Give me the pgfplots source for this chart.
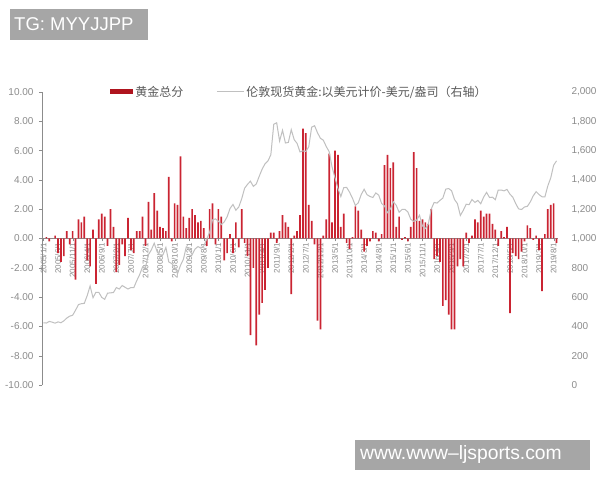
\documentclass[border=0pt]{standalone}
\usepackage{fontspec}
\setmainfont{Liberation Sans}
\newfontfamily\cjk{Noto Sans CJK SC}
\usepackage{pgfplots}
\usepackage{pgfplotstable}
\pgfplotsset{compat=1.18}
\definecolor{barred}{RGB}{202,36,50}
\definecolor{legred}{RGB}{175,20,30}
\definecolor{goldline}{RGB}{192,192,192}
\definecolor{tickgray}{RGB}{140,140,140}
\definecolor{wmgray}{RGB}{166,166,166}

\pgfplotstableread{
x y
0 0.0
1 0.1
2 -0.2
3 0.0
4 0.2
5 -1.0
6 -1.6
7 -1.2
8 0.5
9 -0.4
10 0.5
11 -2.8
12 1.3
13 1.1
14 1.5
15 -1.5
16 -1.9
17 0.6
18 -3.1
19 1.3
20 1.7
21 1.5
22 -0.5
23 2.0
24 0.8
25 -2.3
26 -1.8
27 -0.4
28 -1.2
29 1.4
30 -0.8
31 -1.0
32 0.5
33 0.5
34 1.5
35 -0.5
36 2.5
37 0.6
38 3.1
39 1.9
40 0.8
41 0.7
42 0.5
43 4.2
44 -0.2
45 2.4
46 2.3
47 5.6
48 1.5
49 0.7
50 1.4
51 2.0
52 1.6
53 1.1
54 1.2
55 0.7
56 -0.5
57 2.0
58 2.4
59 -0.4
60 2.0
61 1.5
62 -1.5
63 -1.0
64 0.3
65 -1.0
66 1.1
67 -0.6
68 2.0
69 -0.3
70 -1.2
71 -6.6
72 -2.0
73 -7.3
74 -5.2
75 -4.4
76 -3.5
77 -2.0
78 0.4
79 0.4
80 -0.3
81 0.5
82 1.6
83 1.1
84 0.8
85 -3.8
86 0.2
87 0.5
88 1.6
89 7.5
90 7.2
91 2.3
92 1.2
93 -0.4
94 -5.6
95 -6.2
96 0.2
97 1.3
98 5.8
99 1.1
100 6.0
101 5.7
102 0.8
103 1.7
104 -0.3
105 -0.7
106 0.1
107 2.2
108 1.9
109 0.6
110 -0.9
111 -0.5
112 -0.2
113 0.5
114 0.4
115 -0.2
116 0.3
117 5.0
118 5.7
119 4.8
120 5.2
121 0.8
122 1.5
123 -0.1
124 0.1
125 -0.2
126 0.8
127 5.9
128 4.8
129 1.2
130 1.3
131 1.1
132 1.0
133 2.0
134 -1.4
135 -1.2
136 -1.6
137 -4.6
138 -4.2
139 -5.2
140 -6.2
141 -6.2
142 -1.9
143 -1.4
144 -1.9
145 0.4
146 -0.3
147 0.2
148 1.3
149 1.1
150 1.9
151 1.5
152 1.7
153 1.7
154 1.0
155 0.6
156 -0.5
157 0.5
158 0.1
159 0.8
160 -5.1
161 -1.0
162 -1.2
163 -1.4
164 -0.9
165 -0.2
166 0.9
167 0.7
168 -0.1
169 0.2
170 -0.8
171 -3.6
172 0.3
173 2.0
174 2.3
175 2.4
176 -0.3
}\bars

\pgfplotstableread{
x p
0 424
1 423
2 434
3 429
4 422
5 431
6 425
7 438
8 457
9 470
10 476
11 510
12 549
13 555
14 557
15 610
16 676
17 596
18 633
19 632
20 598
21 585
22 627
23 629
24 631
25 665
26 655
27 679
28 667
29 655
30 665
31 665
32 712
33 754
34 806
35 803
36 889
37 922
38 968
39 909
40 888
41 889
42 939
43 839
44 829
45 806
46 760
47 816
48 858
49 943
50 924
51 890
52 928
53 945
54 934
55 949
56 996
57 1043
58 1127
59 1134
60 1118
61 1095
62 1113
63 1148
64 1205
65 1232
66 1193
67 1215
68 1271
69 1343
70 1370
71 1391
72 1356
73 1372
74 1424
75 1473
76 1510
77 1529
78 1572
79 1780
80 1790
81 1665
82 1739
83 1652
84 1656
85 1743
86 1675
87 1649
88 1591
89 1598
90 1594
91 1626
92 1760
93 1770
94 1722
95 1684
96 1671
97 1628
98 1593
99 1487
100 1414
101 1343
102 1286
103 1347
104 1349
105 1316
106 1275
107 1225
108 1244
109 1300
110 1336
111 1299
112 1287
113 1280
114 1311
115 1296
116 1239
117 1222
118 1176
119 1201
120 1251
121 1227
122 1179
123 1198
124 1199
125 1181
126 1131
127 1117
128 1125
129 1159
130 1086
131 1068
132 1097
133 1200
134 1246
135 1242
136 1260
137 1276
138 1337
139 1341
140 1326
141 1266
142 1238
143 1157
144 1192
145 1234
146 1231
147 1266
148 1246
149 1260
150 1237
151 1283
152 1315
153 1280
154 1282
155 1265
156 1331
157 1331
158 1325
159 1335
160 1303
161 1282
162 1238
163 1202
164 1198
165 1215
166 1220
167 1250
168 1291
169 1320
170 1300
171 1285
172 1284
173 1359
174 1413
175 1500
176 1530
}\gold

\begin{document}
\begin{tikzpicture}
\fill[white] (0pt,0pt) rectangle (600pt,480pt);
\path[use as bounding box] (0pt,0pt) rectangle (600pt,480pt);

\begin{axis}[
  at={(42pt,95pt)}, anchor=south west,
  scale only axis, width=516pt, height=293pt,
  xmin=-0.5, xmax=176.5, ymin=-10, ymax=10,
  axis x line*=middle, axis y line*=left,
  axis line style={tickgray,-},
  hide obscured x ticks=false,
  tick align=outside,
  major tick length=3pt,
  tick style={tickgray},
  ytick={-10,-8,...,10},
  yticklabel style={font=\fontsize{10}{10}\selectfont, text=tickgray, xshift=-2pt},
  /pgf/number format/.cd, fixed, fixed zerofill, precision=2, assume math mode=true,
  /pgfplots/.cd,
  xtick={0,5,...,175},
  xticklabels={2005/1/1,2005/6/1,2005/11/1,2006/4/1,2006/9/1,2007/2/1,2007/7/1,2007/12/1,2008/5/1,2008/10/1,2009/3/1,2009/8/1,2010/1/1,2010/6/1,2010/11/1,2011/4/1,2011/9/1,2012/2/1,2012/7/1,2012/12/1,2013/5/1,2013/10/1,2014/3/1,2014/8/1,2015/1/1,2015/6/1,2015/11/1,2016/4/1,2016/9/1,2017/2/1,2017/7/1,2017/12/1,2018/5/1,2018/10/1,2019/3/1,2019/8/1},
  xticklabel style={rotate=90, anchor=east, font=\fontsize{8}{8}\selectfont, text=tickgray, inner sep=1pt},
  ybar, bar width=1.7pt,
  legend columns=2,
  legend style={at={(axis description cs:0.132,1.0)}, anchor=west, draw=none, fill=none, inner sep=0pt,
    font=\cjk\fontsize{12}{12}\selectfont, text=black!65,
    /tikz/every even column/.append style={column sep=31pt}},
]
\addplot[fill=barred, draw=none,
  legend image code/.code={\fill[legred] (0pt,-2.5pt) rectangle (23pt,2.5pt);}]
  table[x=x,y=y]{\bars};
\addlegendentry{黄金总分}
\addlegendimage{legend image code/.code={\draw[goldline, line width=1pt] (0pt,0pt) -- (27pt,0pt);}}
\addlegendentry{伦敦现货黄金:以美元计价-美元/盎司（右轴）}
\end{axis}

\begin{axis}[
  at={(42pt,95pt)}, anchor=south west,
  scale only axis, width=516pt, height=293pt,
  xmin=-0.5, xmax=176.5, ymin=0, ymax=2000,
  axis y line*=right, hide x axis,
  y axis line style={draw=none},
  major tick length=0pt,
  ytick={0,200,...,2000},
  yticklabel style={font=\fontsize{10}{10}\selectfont, text=tickgray, anchor=west, xshift=10pt},
  /pgf/number format/.cd, 1000 sep={,}, assume math mode=true,
  /pgfplots/.cd,
]
\addplot[goldline, line width=1pt, mark=none] table[x=x,y=p]{\gold};
\end{axis}

\fill[wmgray] (10pt,440pt) rectangle (148pt,471pt);
\node[anchor=west, text=white, inner sep=0pt, font=\fontsize{18.5}{18.5}\selectfont] at (14pt,455.5pt) {TG: MYYJJPP};
\fill[wmgray] (355pt,10pt) rectangle (590pt,40pt);
\node[anchor=west, text=white, inner sep=0pt, font=\fontsize{19.3}{19.3}\selectfont] at (360pt,25.5pt) {www.www–ljsports.com};
\end{tikzpicture}
\end{document}
